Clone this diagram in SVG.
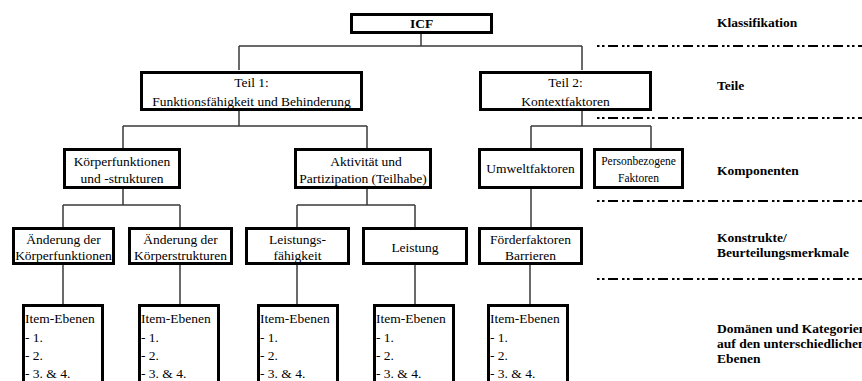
<svg xmlns="http://www.w3.org/2000/svg" width="862" height="381" viewBox="0 0 862 381" font-family="'Liberation Serif', 'Times New Roman', Tinos, 'DejaVu Serif', serif">
<style>
text { font-family: 'Liberation Serif', 'Times New Roman', Tinos, 'DejaVu Serif', serif; fill: #000; }
.t { font-size: 13.5px; text-anchor: middle; }
.ts { font-size: 11.5px; text-anchor: middle; }
.ti { font-size: 13.5px; }
.lb { font-size: 13.5px; font-weight: bold; }
.box { fill: #fff; stroke: #000; stroke-width: 3; }
.con { fill: none; stroke: #3a3a3a; stroke-width: 1.5; }
.dash { fill: none; stroke: #000; stroke-width: 2.2; stroke-dasharray: 2.5 2.5 2.5 3.5 10 4; }
</style>
<rect width="862" height="381" fill="#fff"/>
<g id="connectors">
  <path class="con" d="M421 34 V46 M239 46 H582 M239 46 V70 M582 46 V70"/>
  <path class="con" d="M239 111 V126 M123 126 H367 M123 126 V148 M367 126 V148"/>
  <path class="con" d="M582 110 V126 M531 126 H651 M531 126 V148 M651 126 V148"/>
  <path class="con" d="M123 189 V205 M63 205 H180 M63 205 V227 M180 205 V227"/>
  <path class="con" d="M367 189 V205 M297 205 H415 M297 205 V227 M415 205 V227"/>
  <path class="con" d="M531 189 V227"/>
  <path class="con" d="M63 265 V304 M180 265 V304 M297 265 V304 M415 265 V304 M530 265 V304"/>
</g>
<g id="levels">
  <path class="dash" d="M597 46 H862"/>
  <path class="dash" d="M597 118 H862"/>
  <path class="dash" d="M597 201 H862"/>
  <path class="dash" d="M597 279 H862"/>
  <text class="lb" x="717" y="27">Klassifikation</text>
  <text class="lb" x="717" y="90">Teile</text>
  <text class="lb" x="717" y="175">Komponenten</text>
  <text class="lb" x="717" y="242">Konstrukte/</text>
  <text class="lb" x="717" y="257">Beurteilungsmerkmale</text>
  <text class="lb" x="717" y="333">Domänen und Kategorien</text>
  <text class="lb" x="717" y="348">auf den unterschiedlichen</text>
  <text class="lb" x="717" y="363">Ebenen</text>
</g>
<g id="icf">
  <rect class="box" x="351.5" y="14.5" width="140" height="18"/>
  <text class="t" x="421.5" y="28" font-weight="bold">ICF</text>
</g>
<g id="teil1">
  <rect class="box" x="141.5" y="72.5" width="220" height="37"/>
  <text class="t" x="251.5" y="87">Teil 1:</text>
  <text class="t" x="251.5" y="106">Funktionsfähigkeit und Behinderung</text>
</g>
<g id="teil2">
  <rect class="box" x="480.5" y="72.5" width="170" height="37"/>
  <text class="t" x="565.5" y="87">Teil 2:</text>
  <text class="t" x="565.5" y="106">Kontextfaktoren</text>
</g>
<g id="koerper">
  <rect class="box" x="64.5" y="149.5" width="115" height="38"/>
  <text class="t" x="122" y="166">Körperfunktionen</text>
  <text class="t" x="122" y="183">und -strukturen</text>
</g>
<g id="aktivitaet">
  <rect class="box" x="295.5" y="149.5" width="135" height="38"/>
  <text class="t" x="366" y="166">Aktivität und</text>
  <text class="t" x="363" y="183">Partizipation (Teilhabe)</text>
</g>
<g id="umwelt">
  <rect class="box" x="479.5" y="149.5" width="102" height="38"/>
  <text class="t" x="530.5" y="173">Umweltfaktoren</text>
</g>
<g id="person">
  <rect class="box" x="594.5" y="149.5" width="88" height="38"/>
  <text class="ts" x="638.5" y="165">Personbezogene</text>
  <text class="ts" x="638.5" y="182">Faktoren</text>
</g>
<g id="aend-funktionen">
  <rect class="box" x="13.5" y="228.5" width="100" height="35"/>
  <text class="t" x="63.5" y="244">Änderung der</text>
  <text class="t" x="63.5" y="260">Körperfunktionen</text>
</g>
<g id="aend-strukturen">
  <rect class="box" x="129.5" y="228.5" width="102" height="35"/>
  <text class="t" x="180.5" y="244">Änderung der</text>
  <text class="t" x="180.5" y="260">Körperstrukturen</text>
</g>
<g id="leistungsfaehigkeit">
  <rect class="box" x="246.5" y="228.5" width="102" height="35"/>
  <text class="t" x="297.5" y="244">Leistungs-</text>
  <text class="t" x="297.5" y="260">fähigkeit</text>
</g>
<g id="leistung">
  <rect class="box" x="363.5" y="228.5" width="103" height="35"/>
  <text class="t" x="415" y="252">Leistung</text>
</g>
<g id="foerder">
  <rect class="box" x="479.5" y="228.5" width="102" height="35"/>
  <text class="t" x="530.5" y="244">Förderfaktoren</text>
  <text class="t" x="530.5" y="260">Barrieren</text>
</g>
<g id="items1">
  <rect class="box" x="23.5" y="305.5" width="79" height="100"/>
  <text class="ti" x="25" y="323">Item-Ebenen</text>
  <text class="ti" x="25" y="342">- 1.</text>
  <text class="ti" x="25" y="360">- 2.</text>
  <text class="ti" x="25" y="378">- 3. &amp; 4.</text>
</g>
<g id="items2">
  <rect class="box" x="139.5" y="305.5" width="79" height="100"/>
  <text class="ti" x="141" y="323">Item-Ebenen</text>
  <text class="ti" x="141" y="342">- 1.</text>
  <text class="ti" x="141" y="360">- 2.</text>
  <text class="ti" x="141" y="378">- 3. &amp; 4.</text>
</g>
<g id="items3">
  <rect class="box" x="258.5" y="305.5" width="79" height="100"/>
  <text class="ti" x="260" y="323">Item-Ebenen</text>
  <text class="ti" x="260" y="342">- 1.</text>
  <text class="ti" x="260" y="360">- 2.</text>
  <text class="ti" x="260" y="378">- 3. &amp; 4.</text>
</g>
<g id="items4">
  <rect class="box" x="374.5" y="305.5" width="79" height="100"/>
  <text class="ti" x="376" y="323">Item-Ebenen</text>
  <text class="ti" x="376" y="342">- 1.</text>
  <text class="ti" x="376" y="360">- 2.</text>
  <text class="ti" x="376" y="378">- 3. &amp; 4.</text>
</g>
<g id="items5">
  <rect class="box" x="488.5" y="305.5" width="79" height="100"/>
  <text class="ti" x="490" y="323">Item-Ebenen</text>
  <text class="ti" x="490" y="342">- 1.</text>
  <text class="ti" x="490" y="360">- 2.</text>
  <text class="ti" x="490" y="378">- 3. &amp; 4.</text>
</g>
</svg>
